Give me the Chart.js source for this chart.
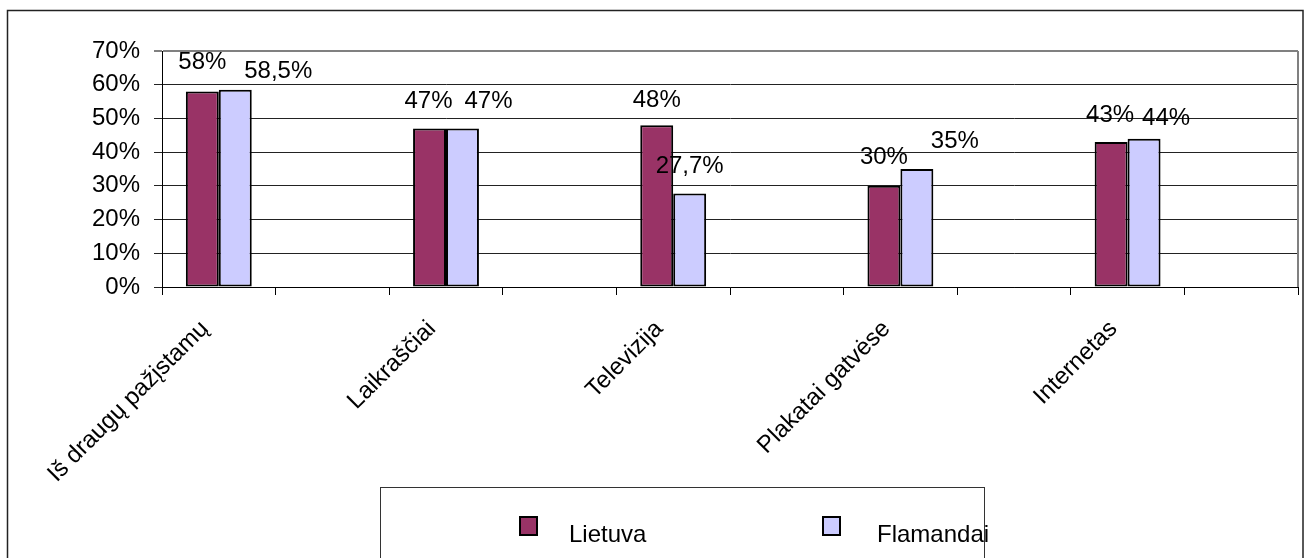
<!DOCTYPE html>
<html>
<head>
<meta charset="utf-8">
<script src="https://cdn.jsdelivr.net/npm/chart.js"></script>
<style>
  html, body { margin: 0; padding: 0; background: #fff; }
  #wrap { width: 1305px; height: 558px; }
</style>
</head>
<body>
<div id="wrap"><canvas id="sources" width="1305" height="558"></canvas></div>
<script>
// Categories (blank slots keep the wide spacing between groups)
const categories = ['Iš draugų pažįstamų', '', 'Laikraščiai', '', 'Televizija', '', 'Plakatai gatvėse', '', 'Internetas', ''];
const seriesNames = ['Lietuva', 'Flamandai'];
const lietuva = [58, null, 47, null, 48, null, 30, null, 43, null];
const flamandai = [58.5, null, 47, null, 27.7, null, 35, null, 44, null];
const yTicks = [0, 10, 20, 30, 40, 50, 60, 70];

// where each value label sits relative to the top centre of its bar
const lietuvaLabelOffsets = [[0, -29], null, [-1, -27], null, [0, -25], null, [0, -28], null, [-1, -27], null];
const flamandaiLabelOffsets = [[43, -18], null, [26, -27], null, [0, -27], null, [38, -28], null, [22, -20], null];

const FONT = '"Liberation Sans", Arial, sans-serif';
Chart.defaults.font.family = FONT;
Chart.defaults.font.size = 24;
Chart.defaults.color = '#000';

const fmtPct = v => String(v).replace('.', ',') + '%';

// value labels above the bars
const valueLabels = {
  id: 'valueLabels',
  afterDatasetsDraw(chart) {
    const c = chart.ctx;
    c.save();
    c.font = '24px ' + FONT;
    c.fillStyle = '#000';
    c.textAlign = 'center';
    c.textBaseline = 'middle';
    chart.data.datasets.forEach((ds, di) => {
      const meta = chart.getDatasetMeta(di);
      meta.data.forEach((bar, i) => {
        const v = ds.data[i];
        if (v == null) return;
        const off = ds.labelOffsets[i] || [0, -27];
        c.fillText(fmtPct(v), bar.x + off[0], bar.y + off[1]);
      });
    });
    c.restore();
  }
};

// outer frame, plot border on the right and the boxed legend at the bottom
const frameAndLegend = {
  id: 'frameAndLegend',
  afterDraw(chart) {
    const c = chart.ctx;
    const a = chart.chartArea;
    c.save();
    // plot area right edge
    c.strokeStyle = '#808080';
    c.lineWidth = 2;
    c.beginPath();
    c.moveTo(a.right, a.top);
    c.lineTo(a.right, a.bottom);
    c.stroke();

    // outer frame
    c.strokeStyle = '#222';
    c.lineWidth = 1.5;
    c.strokeRect(7.5, 10.5, 1295.5, 560);

    // legend box
    c.strokeStyle = '#333';
    c.lineWidth = 1;
    c.strokeRect(380.5, 487.5, 604, 80);

    const boxX = [520, 823];
    const textX = [569, 877];
    c.font = '24px ' + FONT;
    c.textBaseline = 'middle';
    c.textAlign = 'left';
    chart.data.datasets.forEach((ds, di) => {
      const x = boxX[di];
      c.fillStyle = ds.backgroundColor;
      c.fillRect(x, 517, 17, 18);
      c.strokeStyle = '#000';
      c.lineWidth = 2;
      c.strokeRect(x, 517, 17, 18);
      c.fillStyle = '#000';
      c.fillText(ds.label, textX[di], 535);
    });
    c.restore();
  }
};

new Chart(document.getElementById('sources'), {
  type: 'bar',
  data: {
    labels: categories,
    datasets: [
      {
        label: seriesNames[0],
        data: lietuva,
        labelOffsets: lietuvaLabelOffsets,
        backgroundColor: '#993366',
        borderColor: '#000',
        borderWidth: 2,
        borderSkipped: false
      },
      {
        label: seriesNames[1],
        data: flamandai,
        labelOffsets: flamandaiLabelOffsets,
        backgroundColor: '#CCCCFF',
        borderColor: '#000',
        borderWidth: 2,
        borderSkipped: false
      }
    ]
  },
  options: {
    responsive: false,
    animation: false,
    layout: { padding: { top: 51, right: 7, left: 0, bottom: 0 } },
    datasets: { bar: { barPercentage: 1, categoryPercentage: 0.58 } },
    plugins: {
      legend: { display: false },
      tooltip: { enabled: false }
    },
    scales: {
      x: {
        grid: { drawOnChartArea: false, tickLength: 8, color: '#000', offset: true },
        border: { color: '#000', width: 1 },
        ticks: { autoSkip: false, minRotation: 45, maxRotation: 45, padding: 20, labelOffset: -14, font: { size: 24 } },
        afterFit(scale) {
          scale.height = 271;
          scale.paddingLeft = 0;
          scale.paddingRight = 0;
        }
      },
      y: {
        min: 0,
        max: 70,
        afterBuildTicks(scale) {
          scale.ticks = yTicks.map(v => ({ value: v }));
        },
        grid: {
          tickLength: 8,
          color: ctx => (ctx.tick && ctx.tick.value === 70 ? '#808080' : '#222'),
          lineWidth: ctx => (ctx.tick && ctx.tick.value === 70 ? 2 : 1)
        },
        border: { color: '#000', width: 1 },
        ticks: { padding: 14, callback: v => v + '%', font: { size: 24 } },
        afterFit(scale) {
          scale.width = 162;
        }
      }
    }
  },
  plugins: [valueLabels, frameAndLegend]
});
</script>
</body>
</html>
